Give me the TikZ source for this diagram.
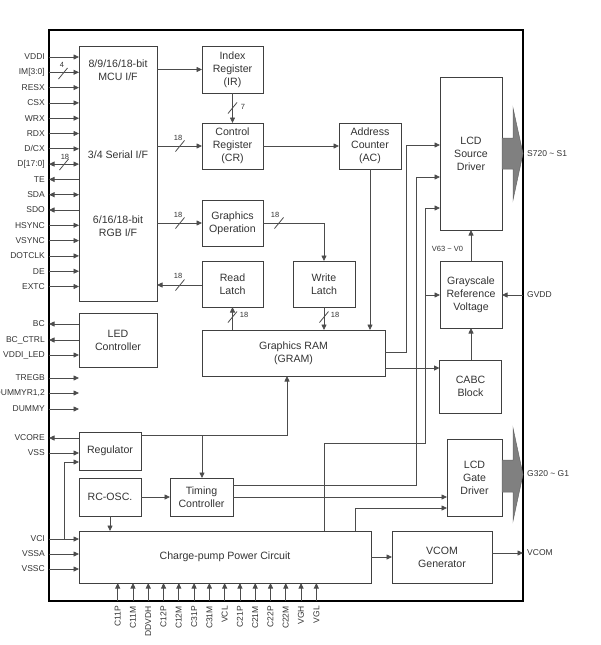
\documentclass[tikz,border=0pt]{standalone}
\usepackage{fontspec}
\setmainfont{Liberation Sans}
\usetikzlibrary{arrows.meta}
\begin{document}
\begin{tikzpicture}[x=1pt,y=-1pt,
 blk/.style={draw=black!75, line width=0.9pt, inner sep=0pt, outer sep=0pt, align=center, font=\fontsize{10.6}{13}\selectfont, text=black!80},
 txt/.style={inner sep=0pt, align=center, font=\fontsize{10.6}{13}\selectfont, text=black!80},
 chipbox/.style={draw=black, line width=2pt, inner sep=0pt, outer sep=0pt},
 wire/.style={draw=black!70, line width=0.8pt},
 arr/.style={wire, -{Triangle[length=5.5pt,width=5pt]}},
 rarr/.style={wire, {Triangle[length=5.5pt,width=5pt]}-},
 barr/.style={wire, {Triangle[length=5.5pt,width=5pt]}-{Triangle[length=5.5pt,width=5pt]}},
 pinlab/.style={anchor=east, inner sep=0pt, font=\fontsize{8.5}{9}\selectfont, text=black!80},
 opinlab/.style={anchor=west, inner sep=0pt, font=\fontsize{8.5}{9}\selectfont, text=black!80},
 bpinlab/.style={rotate=90, anchor=east, inner sep=0pt, font=\fontsize{8.5}{9}\selectfont, text=black!80},
 buslab/.style={inner sep=0pt, font=\fontsize{7.5}{8}\selectfont, text=black!80},
 bigarr/.style={fill=black!50, draw=black!60, line width=0.5pt},
 busmark/.pic={\draw[wire] (-4.5,5.5) -- (4.5,-5.5);}
]
\useasboundingbox (0,0) rectangle (601,645);

% chip outline
\node[chipbox, minimum width=474, minimum height=571] (chip) at (286,315.5) {};

% blocks
\node[blk, minimum width=78, minimum height=255] (mcu) at (118,173.5) {};
\node[txt] (mcut1) at (118,70) {8/9/16/18-bit\\MCU I/F};
\node[txt] (mcut2) at (118,155) {3/4 Serial I/F};
\node[txt] (mcut3) at (118,226.5) {6/16/18-bit\\RGB I/F};
\node[blk, minimum width=61, minimum height=47] (ir) at (232.5,69.5) {Index\\Register\\(IR)};
\node[blk, minimum width=61, minimum height=46] (cr) at (232.5,146) {Control\\Register\\(CR)};
\node[blk, minimum width=62, minimum height=46] (ac) at (370,146) {Address\\Counter\\(AC)};
\node[blk, minimum width=61, minimum height=46] (gop) at (232.5,223) {Graphics\\Operation};
\node[blk, minimum width=61, minimum height=46] (rl) at (232.5,284) {Read\\Latch};
\node[blk, minimum width=62, minimum height=46] (wl) at (324,284) {Write\\Latch};
\node[blk, minimum width=183, minimum height=46] (gram) at (293.5,353) {Graphics RAM\\(GRAM)};
\node[blk, minimum width=62, minimum height=153] (lsd) at (471,153.5) {LCD\\Source\\Driver};
\node[blk, minimum width=62, minimum height=67] (grv) at (471,294.5) {Grayscale\\Reference\\Voltage};
\node[blk, minimum width=62, minimum height=53] (cabc) at (470.5,386.5) {CABC\\Block};
\node[blk, minimum width=55, minimum height=77] (gate) at (474.5,477.5) {LCD\\Gate\\Driver};
\node[blk, minimum width=78, minimum height=54] (led) at (118,340) {LED\\Controller};
\node[blk, minimum width=62, minimum height=38] (reg) at (110,451) {Regulator};
\node[blk, minimum width=62, minimum height=38] (rco) at (110,497) {RC-OSC.};
\node[blk, minimum width=63, minimum height=38] (tc) at (201.5,497) {Timing\\Controller};
\node[blk, minimum width=292, minimum height=52] (cp) at (225,557) {Charge-pump Power Circuit};
\node[blk, minimum width=100, minimum height=52] (vcom) at (442,557) {VCOM\\Generator};

% left pins to MCU
\foreach \n/\y/\s [count=\i] in {VDDI/57/arr, {IM[3:0]}/72.3/arr, RESX/87.6/arr, CSX/102.9/arr, WRX/118.2/arr, RDX/133.5/arr, {D/CX}/148.8/arr, {D[17:0]}/164.1/barr, TE/179.4/rarr, SDA/194.7/barr, SDO/210/rarr, HSYNC/225.3/arr, VSYNC/240.6/arr, DOTCLK/255.9/arr, DE/271.2/arr, EXTC/286.5/arr}{
  \coordinate (lp\i) at (49,\y);
  \node[pinlab] (lpl\i) at (45,\y) {\n};
  \draw[\s] (lp\i) -- (lp\i -| mcu.west);
}
\pic at (63,73.5) {busmark};
\node[buslab] (bl4) at (62,64.5) {4};
\pic at (64,164.5) {busmark};
\node[buslab] (bl18a) at (65,156.5) {18};

% other left pins
\foreach \n/\y/\s [count=\i] in {BC/324/rarr, BC\_CTRL/340/rarr, VDDI\_LED/355/arr, TREGB/378/arr, {DUMMYR1,2}/393/arr, DUMMY/409/arr, VCORE/438/rarr, VSS/453/arr, VCI/539/arr, VSSA/554/arr, VSSC/569/arr}{
  \coordinate (op\i) at (49,\y);
  \node[pinlab] (opl\i) at (45,\y) {\n};
  \draw[\s] (op\i) -- (op\i -| mcu.west);
}
\coordinate (vcib) at (64,539);
\coordinate (regin) at (79,462);
\draw[arr] (vcib) |- (regin);

% bottom pins
\foreach \n [count=\i from 0] in {C11P,C11M,DDVDH,C12P,C12M,C31P,C31M,VCL,C21P,C21M,C22P,C22M,VGH,VGL}{
  \pgfmathsetmacro\xx{117.7+15.28*\i}
  \coordinate (bp\i) at (\xx,601);
  \draw[arr] (bp\i) -- (bp\i |- cp.south);
  \node[bpinlab] (bpl\i) at (\xx,606) {\n};
}

% MCU connections
\draw[arr] (mcu.east |- ir.west) -- (ir.west);
\draw[arr] (mcu.east |- cr.west) -- (cr.west);
\pic at (180,146) {busmark};
\node[buslab] (bl18b) at (178,137.5) {18};
\draw[arr] (ir.south) -- (cr.north);
\pic at (232.5,108) {busmark};
\node[buslab] (bl7) at (243,106.5) {7};
\draw[arr] (mcu.east |- gop.west) -- (gop.west);
\pic at (180,223) {busmark};
\node[buslab] (bl18c) at (178,214.5) {18};
\draw[rarr] (mcu.east |- 0,285) -- (rl.west |- 0,285);
\pic at (180,285) {busmark};
\node[buslab] (bl18d) at (178,276) {18};

\draw[arr] (cr.east) -- (ac.west);
\draw[arr] (gop.east) -| (wl.north);
\pic at (279,223) {busmark};
\node[buslab] (bl18e) at (275,214.5) {18};
\draw[arr] (wl.south) -- (gram.north -| wl.south);
\pic at (324,317) {busmark};
\node[buslab] (bl18f) at (335,314.5) {18};
\draw[arr] (gram.north -| rl.south) -- (rl.south);
\pic at (232.5,317) {busmark};
\node[buslab] (bl18g) at (244,314.5) {18};
\draw[arr] (ac.south) -- (gram.north -| ac.south);

% GRAM outputs
\draw[arr] (gram.east |- 0,352) -- (406,352) -- (406,145) -- (lsd.west |- 0,145);
\draw[arr] (gram.east |- 0,368) -- (cabc.west |- 0,368);
\draw[arr] (cabc.north -| 471,0) -- (grv.south);
\draw[arr] (grv.north) -- (lsd.south);
\node[buslab] (vlab) at (447.5,249) {V63 \textasciitilde{} V0};

% timing and regulator
\draw[arr] (reg.east |- 0,435) -- (287,435) -- (gram.south -| 287,0);
\draw[arr] (202,435) -- (tc.north -| 202,0);
\draw[arr] (rco.east) -- (tc.west);
\draw[arr] (rco.south) -- (cp.north -| rco.south);
\draw[arr] (tc.east |- 0,485) -- (416,485) -- (416,177) -- (lsd.west |- 0,177);
\draw[arr] (tc.east |- 0,497) -- (gate.west |- 0,497);
\draw[arr] (cp.north -| 324,0) -- (324,443) -- (425,443) -- (425,208) -- (lsd.west |- 0,208);
\draw[arr] (425,295) -- (grv.west |- 0,295);
\draw[arr] (cp.north -| 355,0) -- (355,508) -- (gate.west |- 0,508);
\draw[arr] (cp.east) -- (vcom.west);

% right side pins
\coordinate (rpG) at (523,295);
\draw[arr] (rpG) -- (grv.east |- rpG);
\node[opinlab] (gvddl) at (527,295) {GVDD};
\coordinate (rpV) at (523,553);
\draw[arr] (vcom.east |- rpV) -- (rpV);
\node[opinlab] (vcoml) at (527,553) {VCOM};

% big output arrows
\filldraw[bigarr] (lsd.east |- 0,138) -- (513,138) -- (513,108) -- (chip.east |- 0,153.5) -- (513,200) -- (513,169) -- (lsd.east |- 0,169) -- cycle;
\node[opinlab] (srcl) at (527,153.5) {S720 \textasciitilde{} S1};
\filldraw[bigarr] (gate.east |- 0,460) -- (513,460) -- (513,428) -- (chip.east |- 0,474.5) -- (513,521) -- (513,492) -- (gate.east |- 0,492) -- cycle;
\node[opinlab] (gatl) at (527,474) {G320 \textasciitilde{} G1};
\end{tikzpicture}
\end{document}
